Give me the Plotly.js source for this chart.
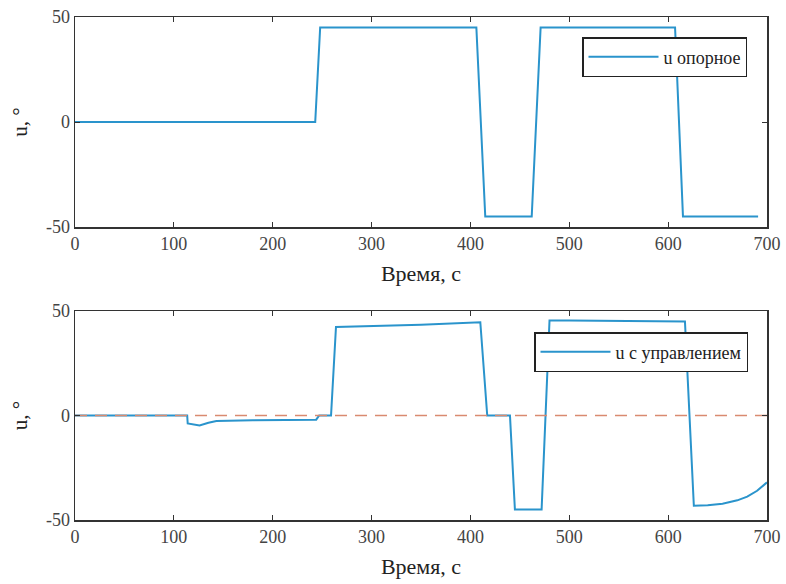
<!DOCTYPE html>
<html>
<head>
<meta charset="utf-8">
<script src="https://cdn.plot.ly/plotly-3.0.1.min.js"></script>
<style>html,body{margin:0;padding:0;background:#fff;}#chart{width:786px;height:584px;}</style>
</head>
<body>
<div id="chart"></div>
<script>
// Top panel: reference signal
const tRef = [0, 243, 248, 406, 415, 462, 471, 607, 615, 691];
const uRef = [0, 0, 45, 45, -45, -45, 45, 45, -45, -45];

// Bottom panel: controlled signal
const tCtrl = [0, 113.5, 114, 126, 135, 143, 180, 227, 244, 247, 259, 264, 300, 350, 410, 417, 440, 445, 472, 480, 500, 617, 626, 640, 655, 670, 680, 690, 700];
const uCtrl = [0, 0, -3.8, -4.8, -3.5, -2.6, -2.3, -2.1, -2, 0, 0, 42.4, 42.8, 43.4, 44.6, 0, 0, -45, -45, 45.5, 45.5, 45, -43.2, -42.9, -42.2, -40.6, -38.8, -36, -32];

// Zero reference (dashed)
const tZero = [0, 700];
const uZero = [0, 0];

const xTicks = [0, 100, 200, 300, 400, 500, 600, 700];
const yTicks = [-50, 0, 50];
const xTitle = 'Время, с';
const yTitle = 'u, °';
const name1 = 'u опорное';
const name2 = 'u с управлением';

const blue = '#2a94cc';
const red = '#d98a70';
const font = 'Liberation Serif, Times New Roman, serif';

const traces = [
  {x: tRef, y: uRef, type: 'scatter', mode: 'lines', name: name1, line: {color: blue, width: 2}, xaxis: 'x', yaxis: 'y', legend: 'legend'},
  {x: tCtrl, y: uCtrl, type: 'scatter', mode: 'lines', name: name2, line: {color: blue, width: 2}, xaxis: 'x2', yaxis: 'y2', legend: 'legend2'},
  {x: tZero, y: uZero, type: 'scatter', mode: 'lines', showlegend: false, line: {color: red, width: 1.6, dash: '12px,8px'}, xaxis: 'x2', yaxis: 'y2'}
];

function xa(anchor) {
  return {
    domain: [75/786, 767/786], anchor: anchor, range: [0, 700],
    tickvals: xTicks, ticktext: xTicks.map(String),
    showline: true, mirror: 'ticks', linecolor: '#333', linewidth: 1.5,
    ticks: 'inside', ticklen: 5, tickcolor: '#333', showgrid: false, zeroline: false,
    tickfont: {family: font, size: 18, color: '#444'},
    title: {text: xTitle, font: {family: font, size: 22, color: '#222'}, standoff: 12},
    automargin: false
  };
}
function ya(anchor, dom) {
  return {
    domain: dom, anchor: anchor, range: [-50, 50],
    tickvals: yTicks, ticktext: yTicks.map(String),
    showline: true, mirror: 'ticks', linecolor: '#333', linewidth: 1.5,
    ticks: 'inside', ticklen: 5, tickcolor: '#333', showgrid: false, zeroline: false,
    tickfont: {family: font, size: 18, color: '#444'},
    title: {text: yTitle, font: {family: font, size: 21, color: '#222'}, standoff: 12},
    automargin: false
  };
}

const legendStyle = {bgcolor: '#fff', bordercolor: '#222', borderwidth: 1.5, font: {family: font, size: 18, color: '#222'}, itemwidth: 70};

const layout = {
  width: 786, height: 584,
  margin: {l: 0, r: 0, t: 0, b: 0},
  paper_bgcolor: '#fff', plot_bgcolor: '#fff',
  showlegend: true,
  xaxis: xa('y'),
  yaxis: ya('x', [(584-227)/584, (584-17)/584]),
  xaxis2: xa('y2'),
  yaxis2: ya('x2', [(584-520)/584, (584-311)/584]),
  legend: Object.assign({x: 747/786, y: (584-37)/584, xanchor: 'right', yanchor: 'top'}, legendStyle),
  legend2: Object.assign({x: 748/786, y: (584-332)/584, xanchor: 'right', yanchor: 'top'}, legendStyle)
};

Plotly.newPlot('chart', traces, layout, {staticPlot: true, displayModeBar: false});
</script>
</body>
</html>
